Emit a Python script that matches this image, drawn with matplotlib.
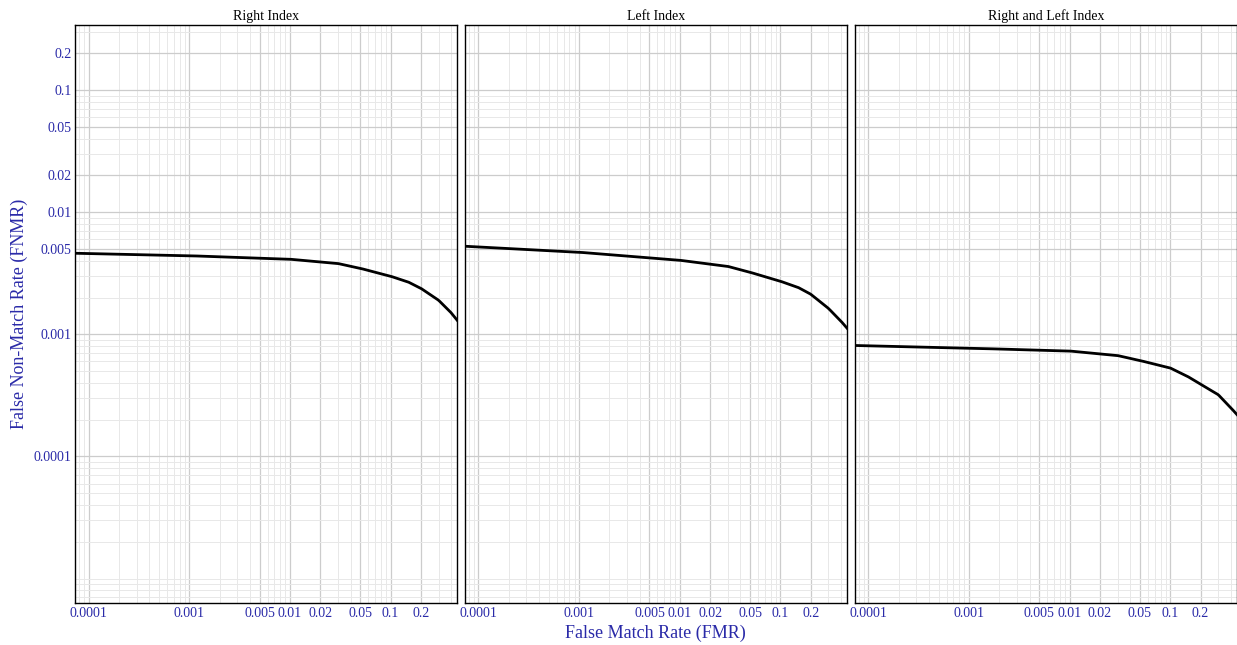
import matplotlib
matplotlib.use("Agg")
import matplotlib.pyplot as plt
from matplotlib.ticker import FixedLocator, NullFormatter, FixedFormatter
import numpy as np

titles = ["Right Index", "Left Index", "Right and Left Index"]
fmr = [7.4e-5, 0.001, 0.01, 0.03, 0.05, 0.1, 0.15, 0.2, 0.3, 0.4, 0.46]
fnmr_right = [0.00461, 0.00440, 0.00412, 0.00380, 0.00347, 0.00299, 0.00268, 0.00238, 0.00190, 0.00150, 0.00130]
fnmr_left = [0.00526, 0.00470, 0.00404, 0.00360, 0.00322, 0.00272, 0.00242, 0.00213, 0.00163, 0.00128, 0.00112]
fnmr_both = [0.00081, 0.00077, 0.00073, 0.00067, 0.00061, 0.00053, 0.00045, 0.00039, 0.00032, 0.00025, 0.00022]
series = [fnmr_right, fnmr_left, fnmr_both]
xticks = [0.0001, 0.001, 0.005, 0.01, 0.02, 0.05, 0.1, 0.2]
xlabels = ["0.0001", "0.001", "0.005", "0.01", "0.02", "0.05", "0.1", "0.2"]
yticks = [0.0001, 0.001, 0.005, 0.01, 0.02, 0.05, 0.1, 0.2]
ylabels = ["0.0001", "0.001", "0.005", "0.01", "0.02", "0.05", "0.1", "0.2"]

plt.rcParams['font.family'] = ['Liberation Serif', 'DejaVu Serif']
blue = "#2a2aa8"
fig, axes = plt.subplots(1, 3, figsize=(12.37, 6.45), dpi=100, sharey=True)
fig.subplots_adjust(left=0.061, right=1.0, top=0.961, bottom=0.065, wspace=0.021)
minor = [m * 10.0**e for e in range(-6, 1) for m in range(1, 10)]
for ax, t, s in zip(axes, titles, series):
    lx = np.log10(fmr)
    xx = np.linspace(lx[0], lx[-1], 300)
    yy = np.interp(xx, lx, np.log10(s))
    ax.plot(10**xx, 10**yy, color="black", lw=2)
    ax.set_xscale("log"); ax.set_yscale("log")
    ax.set_xlim(7.4e-5, 0.46); ax.set_ylim(6.3e-6, 0.34)
    ax.xaxis.set_major_locator(FixedLocator(xticks))
    ax.xaxis.set_major_formatter(FixedFormatter(xlabels))
    ax.xaxis.set_minor_locator(FixedLocator(minor))
    ax.yaxis.set_major_locator(FixedLocator(yticks))
    ax.yaxis.set_major_formatter(FixedFormatter(ylabels))
    ax.yaxis.set_minor_locator(FixedLocator(minor))
    ax.xaxis.set_minor_formatter(NullFormatter())
    ax.yaxis.set_minor_formatter(NullFormatter())
    ax.grid(True, which="major", color="#cccccc", lw=0.9)
    ax.grid(True, which="minor", color="#e8e8e8", lw=0.7)
    ax.set_axisbelow(True)
    ax.tick_params(which="both", length=0, labelsize=10, labelcolor=blue, pad=3)
    ax.set_title(t, fontsize=10, pad=4)
    for sp in ax.spines.values():
        sp.set_color("black"); sp.set_linewidth(1)
axes[0].set_ylabel("False Non-Match Rate (FNMR)", color=blue, fontsize=13)
fig.text(0.53, 0.005, "False Match Rate (FMR)", color=blue, fontsize=13, ha="center", va="bottom")
fig.savefig("out.png")
